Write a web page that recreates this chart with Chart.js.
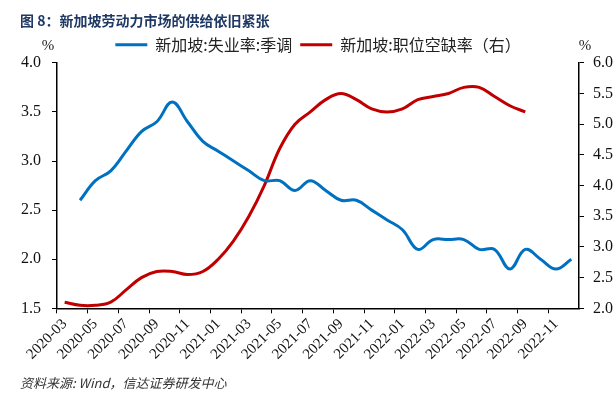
<!DOCTYPE html>
<html lang="zh">
<head>
  <meta charset="UTF-8" />
  <title>新加坡劳动力市场的供给依旧紧张</title>
  <script src="https://cdn.jsdelivr.net/npm/chart.js"></script>
  <style>
    body { margin: 0; background: #fff; }
    .wrap { width: 616px; height: 395px; }
  </style>
</head>
<body>
  <div class="wrap">
    <canvas id="labourChart" width="616" height="395"></canvas>
  </div>

  <script>
  // months, one per slot
  const months = [
    '2020-03', '2020-04', '2020-05', '2020-06', '2020-07', '2020-08', '2020-09', '2020-10',
    '2020-11', '2020-12', '2021-01', '2021-02', '2021-03', '2021-04', '2021-05', '2021-06',
    '2021-07', '2021-08', '2021-09', '2021-10', '2021-11', '2021-12', '2022-01', '2022-02',
    '2022-03', '2022-04', '2022-05', '2022-06', '2022-07', '2022-08', '2022-09', '2022-10',
    '2022-11', '2022-12'
  ];

  // 新加坡:失业率:季调 (left axis, %)
  const unemployment = [
    null, 2.6, 2.8, 2.9, 3.1, 3.3, 3.4, 3.6, 3.4, 3.2, 3.1, 3.0, 2.9, 2.8, 2.8, 2.7, 2.8,
    2.7, 2.6, 2.6, 2.5, 2.4, 2.3, 2.1, 2.2, 2.2, 2.2, 2.1, 2.1, 1.9, 2.1, 2.0, 1.9, 2.0
  ];

  // 新加坡:职位空缺率 (right axis, %)
  const vacancy = [
    2.1, 2.05, 2.05, 2.1, 2.3, 2.5, 2.6, 2.6, 2.55, 2.6, 2.8, 3.1, 3.5, 4.0, 4.6, 5.0, 5.2,
    5.4, 5.5, 5.4, 5.25, 5.2, 5.25, 5.4, 5.45, 5.5, 5.6, 5.6, 5.45, 5.3, 5.2, null, null, null
  ];

  const leftTicks = [1.5, 2.0, 2.5, 3.0, 3.5, 4.0];
  const rightTicks = [2.0, 2.5, 3.0, 3.5, 4.0, 4.5, 5.0, 5.5, 6.0];

  const serif = "'Liberation Serif', 'Times New Roman', serif";
  const cjk = "'Noto Sans CJK SC', sans-serif";

  // the two "%" unit marks above the axes
  const unitMarks = {
    id: 'unitMarks',
    afterDraw(chart) {
      const { ctx, chartArea } = chart;
      ctx.save();
      ctx.fillStyle = '#222';
      ctx.font = '15px ' + serif;
      ctx.textBaseline = 'middle';
      ctx.textAlign = 'center';
      ctx.fillText('%', chartArea.left - 9, 46);
      ctx.fillText('%', chartArea.right + 6, 46);
      ctx.restore();
    }
  };

  const ctx = document.getElementById('labourChart').getContext('2d');
  new Chart(ctx, {
    type: 'line',
    data: {
      labels: months,
      datasets: [
        {
          label: '新加坡:失业率:季调',
          data: unemployment,
          yAxisID: 'y',
          borderColor: '#0070C0',
          backgroundColor: '#0070C0',
          borderWidth: 3,
          tension: 0.4,
          pointRadius: 0
        },
        {
          label: '新加坡:职位空缺率（右）',
          data: vacancy,
          yAxisID: 'y1',
          borderColor: '#C00000',
          backgroundColor: '#C00000',
          borderWidth: 3,
          tension: 0.4,
          pointRadius: 0
        }
      ]
    },
    options: {
      responsive: false,
      animation: false,
      layout: { padding: { left: 20, right: 0, top: 4, bottom: 2 } },
      plugins: {
        title: {
          display: true,
          text: '图 8：新加坡劳动力市场的供给依旧紧张',
          align: 'start',
          color: '#1F3864',
          font: { family: cjk, size: 14, weight: 'bold' },
          padding: { top: 8, bottom: 0 }
        },
        subtitle: {
          display: true,
          position: 'bottom',
          text: '资料来源: Wind，信达证券研发中心',
          align: 'start',
          color: '#333',
          font: { family: cjk, size: 13, style: 'italic' },
          padding: { top: 10, bottom: 2 }
        },
        legend: {
          position: 'top',
          labels: {
            boxWidth: 32,
            boxHeight: 0,   // stroked only, so the sample is a 3px line
            padding: 8,
            color: '#222',
            font: { family: cjk, size: 16 }
          }
        },
        tooltip: { enabled: false }
      },
      scales: {
        x: {
          offset: true,
          grid: {
            offset: true,
            drawOnChartArea: false,
            tickLength: 5,
            color: c => c.index % 2 === 0 ? '#000' : 'rgba(0,0,0,0)'
          },
          border: { color: '#000', width: 1.5 },
          ticks: {
            autoSkip: false,
            maxRotation: 45,
            minRotation: 45,
            padding: 2,
            color: '#111',
            font: { family: serif, size: 15 },
            callback: (v, i) => i % 2 === 0 ? months[i] : ''
          }
        },
        y: {
          position: 'left',
          min: leftTicks[0],
          max: leftTicks[leftTicks.length - 1],
          afterBuildTicks: s => { s.ticks = leftTicks.map(v => ({ value: v })); },
          afterFit: s => { s.width = 37; },
          grid: { drawOnChartArea: false, tickLength: 5, color: '#000' },
          border: { color: '#000', width: 1.5 },
          ticks: {
            padding: 11,
            color: '#111',
            font: { family: serif, size: 16 },
            callback: v => v.toFixed(1)
          }
        },
        y1: {
          position: 'right',
          min: rightTicks[0],
          max: rightTicks[rightTicks.length - 1],
          afterBuildTicks: s => { s.ticks = rightTicks.map(v => ({ value: v })); },
          afterFit: s => { s.width = 37; },
          grid: { drawOnChartArea: false, tickLength: 5, color: '#000' },
          border: { color: '#000', width: 1.5 },
          ticks: {
            padding: 9,
            color: '#111',
            font: { family: serif, size: 16 },
            callback: v => v.toFixed(1)
          }
        }
      }
    },
    plugins: [unitMarks]
  });
  </script>
</body>
</html>
